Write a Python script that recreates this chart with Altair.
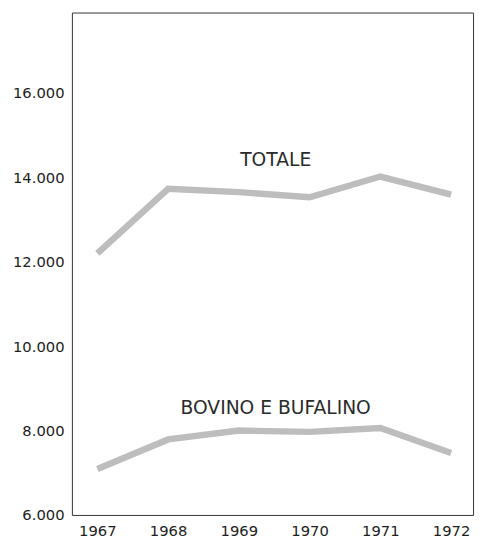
import altair as alt
import pandas as pd

years = [1967, 1968, 1969, 1970, 1971, 1972]
totale = [12200, 13730, 13650, 13530, 14020, 13590]
bovino = [7090, 7790, 8000, 7970, 8060, 7470]

label_text = ["TOTALE", "BOVINO E BUFALINO"]
label_x = [1969.52, 1969.52]
label_y = [14420, 8530]

y_ticks = [6000, 8000, 10000, 12000, 14000, 16000]

rows = []
for y, t in zip(years, totale):
    rows.append({"anno": y, "valore": t, "serie": "TOTALE"})
for y, b in zip(years, bovino):
    rows.append({"anno": y, "valore": b, "serie": "BOVINO E BUFALINO"})
df = pd.DataFrame(rows)
labels = pd.DataFrame({"testo": label_text, "anno": label_x, "valore": label_y})

FONT = "DejaVu Sans"

x_scale = alt.Scale(domain=[1966.64, 1972.31], nice=False, zero=False)
y_scale = alt.Scale(domain=[6000, 17907], nice=False, zero=False)

lines = alt.Chart(df).mark_line(color="#bdbdbd", strokeWidth=6.5, strokeCap="butt").encode(
    x=alt.X("anno:Q", scale=x_scale,
            axis=alt.Axis(values=years, labelExpr="toString(datum.value)", title=None,
                          domain=False, ticks=False, grid=False, labelPadding=9,
                          labelFont=FONT, labelFontSize=15, labelColor="#1e1e1e")),
    y=alt.Y("valore:Q", scale=y_scale,
            axis=alt.Axis(values=y_ticks, title=None, domain=False, ticks=False, grid=False,
                          labelExpr="replace(format(datum.value, ','), ',', '.')",
                          labelPadding=8, labelFont=FONT, labelFontSize=15,
                          labelColor="#1e1e1e")),
    detail="serie:N",
)

texts = alt.Chart(labels).mark_text(font=FONT, fontSize=19, color="#2a2a2a",
                                    align="center", baseline="middle").encode(
    x=alt.X("anno:Q", scale=x_scale),
    y=alt.Y("valore:Q", scale=y_scale),
    text="testo:N",
)

chart = alt.layer(lines, texts).properties(
    width=408, height=511,
    autosize=alt.AutoSizeParams(type="none"),
    padding={"left": 65, "top": 0, "right": 3, "bottom": 30},
    background="white",
).configure_view(stroke="#333333", strokeWidth=1)

chart.save("out.html", embed_options={"renderer": "svg", "actions": False})
